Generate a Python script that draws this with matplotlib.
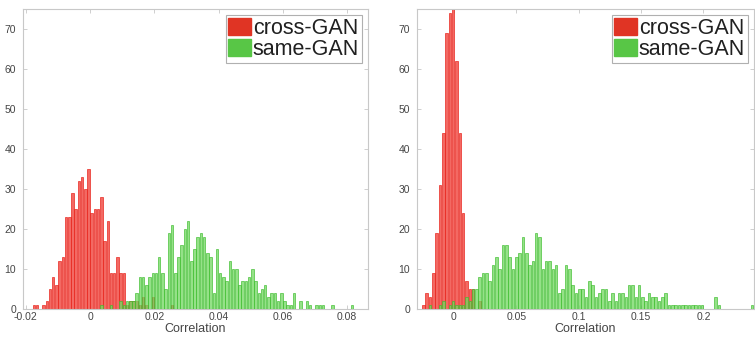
import numpy as np
import matplotlib
matplotlib.use("Agg")
import matplotlib.pyplot as plt
from matplotlib.patches import Patch

plt.rcParams['font.family'] = ['Liberation Sans', 'DejaVu Sans']

# ---------------- data ----------------
# Left panel: 100 bins, width 0.001, first bin centre -0.0175
left_first_center = -0.0175
left_bin_width = 0.001
left_cross = [1, 1, 0, 1, 2, 5, 8, 6, 12, 13,
              23, 23, 29, 25, 32, 33, 30, 35, 24, 25,
              25, 28, 17, 22, 9, 9, 13, 9, 9, 1,
              2, 2, 2, 1, 3, 1, 0, 3, 0, 0,
              0, 0, 0, 1]
left_same = [0] * 21 + [1, 0, 0, 1, 0, 0, 2, 1, 2,
             2, 2, 4, 8, 8, 6, 8, 9, 9, 13,
             9, 5, 19, 21, 9, 13, 16, 20, 22, 12,
             15, 18, 19, 18, 14, 13, 4, 15, 9, 8,
             7, 12, 10, 10, 6, 7, 7, 8, 10, 7,
             4, 5, 6, 3, 4, 4, 2, 4, 2, 1,
             1, 4, 0, 2, 0, 2, 1, 0, 1, 1,
             1, 0, 0, 1, 0, 0, 0, 0, 0, 1]

# Right panel: 100 bins, width 0.00266, first bin centre -0.02444
right_first_center = -0.02444
right_bin_width = 0.00266
right_cross = [1, 4, 3, 9, 19, 31, 44, 69, 74, 76,
               62, 44, 24, 7, 5, 5, 0, 2]
right_same = [0, 0, 1, 0, 0, 1, 2, 0, 1, 2,
              1, 1, 1, 3, 2, 5, 5, 8, 9, 9,
              7, 11, 13, 10, 16, 16, 13, 10, 13, 14,
              18, 14, 11, 12, 19, 18, 10, 12, 12, 10,
              11, 4, 5, 11, 10, 6, 4, 5, 5, 3,
              7, 6, 3, 4, 5, 5, 2, 4, 2, 4,
              4, 3, 6, 6, 3, 6, 3, 2, 4, 3,
              3, 2, 3, 4, 1, 1, 1, 1, 1, 1,
              1, 1, 1, 1, 1, 0, 0, 0, 3, 1,
              0, 0, 0, 0, 0, 0, 0, 0, 0, 1]

left_xticks = [-0.02, 0, 0.02, 0.04, 0.06, 0.08]
left_xticklabels = ["-0.02", "0", "0.02", "0.04", "0.06", "0.08"]
right_xticks = [0, 0.05, 0.1, 0.15, 0.2]
right_xticklabels = ["0", "0.05", "0.1", "0.15", "0.2"]
yticks = [0, 10, 20, 30, 40, 50, 60, 70]
legend_labels = ["cross-GAN", "same-GAN"]
xlabel_text = "Correlation"

# ---------------- style ----------------
RED_FACE = "#f0443c"
RED_EDGE = "#e8241c"
GREEN_FACE = "#72d860"
GREEN_EDGE = "#3cbc2c"
SPINE = "#c8c8c8"
TXT = "#454545"

fig = plt.figure(figsize=(7.55, 3.37), dpi=100)
W, H = 755, 337


def make_axes(l, r, t=9, b=309):
    return fig.add_axes([l / W, (H - b) / H, (r - l) / W, (b - t) / H])


def draw(ax, first_center, width, cross, same, xlim, xticks, xticklabels):
    c_cross = first_center + width * np.arange(len(cross))
    c_same = first_center + width * np.arange(len(same))
    cross = np.asarray(cross, float)
    same = np.asarray(same, float)
    mc = cross > 0
    ms = same > 0
    ax.bar(c_cross[mc], cross[mc], width=width * 0.78, color=RED_FACE,
           edgecolor=RED_EDGE, linewidth=0.6, alpha=0.8, zorder=2)
    ax.bar(c_same[ms], same[ms], width=width * 0.78, color=GREEN_FACE,
           edgecolor=GREEN_EDGE, linewidth=0.6, alpha=0.75, zorder=3)
    ax.set_xlim(*xlim)
    ax.set_ylim(0, 75)
    ax.set_xticks(xticks)
    ax.set_xticklabels(xticklabels)
    ax.set_yticks(yticks)
    ax.tick_params(direction="in", length=3, width=0.6, colors=SPINE,
                   labelcolor=TXT, labelsize=7.5, top=True, right=True)
    ax.tick_params(axis="x", pad=2.5)
    ax.tick_params(axis="y", pad=5)
    for s in ax.spines.values():
        s.set_color(SPINE)
        s.set_linewidth(0.8)
    ax.set_xlabel(xlabel_text, fontsize=9, color=TXT, labelpad=0.5)
    handles = [Patch(facecolor="#e03424", edgecolor="#e03424"),
               Patch(facecolor="#58c646", edgecolor="#58c646")]
    leg = ax.legend(handles, legend_labels, loc="upper right", fontsize=15.5,
                    handlelength=1.05, handleheight=0.8, handletextpad=0.08,
                    labelspacing=0.0, borderpad=0.12, borderaxespad=0.3,
                    frameon=True, fancybox=False, framealpha=1)
    leg.get_frame().set_edgecolor("#b0b0b0")
    leg.get_frame().set_linewidth(0.8)
    for t in leg.get_texts():
        t.set_color("#202020")


ax1 = make_axes(23, 368)
draw(ax1, left_first_center, left_bin_width, left_cross, left_same,
     (-0.0209, 0.0865), left_xticks, left_xticklabels)

ax2 = make_axes(417, 754)
draw(ax2, right_first_center, right_bin_width, right_cross, right_same,
     (-0.0295, 0.2405), right_xticks, right_xticklabels)

fig.savefig("out.png", dpi=100)
